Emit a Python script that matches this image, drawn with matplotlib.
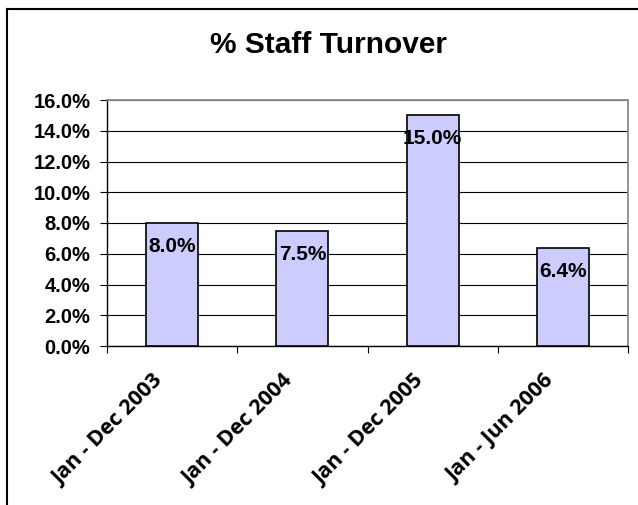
import matplotlib
matplotlib.use("Agg")
import matplotlib.pyplot as plt
import matplotlib.transforms as mtransforms
from matplotlib.lines import Line2D
from matplotlib.ticker import FuncFormatter, FixedLocator

# Staff turnover by period (percent)
categories = ["Jan - Dec 2003", "Jan - Dec 2004", "Jan - Dec 2005", "Jan - Jun 2006"]
turnover = [8.0, 7.5, 15.0, 6.4]
y_ticks = [0, 2, 4, 6, 8, 10, 12, 14, 16]
title = "% Staff Turnover"

plt.rcParams["font.family"] = ["Liberation Sans", "DejaVu Sans"]
plt.rcParams["font.weight"] = "bold"

DPI = 100
W, H = 638, 505
fig = plt.figure(figsize=(W / DPI, H / DPI), dpi=DPI)
fig.patch.set_facecolor("white")

# plot area in pixel terms
left, right, top, bottom = 107, 628, 100, 346
ax = fig.add_axes([left / W, (H - bottom) / H, (right - left) / W, (bottom - top) / H])

x = list(range(len(categories)))
ax.bar(x, turnover, width=0.4, color="#CCCCFF", edgecolor="black", linewidth=1.2, zorder=3)

ax.set_xlim(-0.5, len(categories) - 0.5)
ax.set_ylim(0, 16)
ax.yaxis.set_major_locator(FixedLocator(y_ticks))
ax.yaxis.set_major_formatter(FuncFormatter(lambda v, p: f"{v:.1f}%"))
ax.grid(axis="y", color="black", linewidth=0.8, zorder=0)
ax.set_axisbelow(True)

# spines: black axes, grey frame
for s in ("top", "right"):
    ax.spines[s].set_color("#8c8c8c")
    ax.spines[s].set_linewidth(1.3)
for s in ("left", "bottom"):
    ax.spines[s].set_color("black")
    ax.spines[s].set_linewidth(1.0)

ax.tick_params(axis="y", direction="out", length=5, width=0.8, pad=7,
               labelsize=14.5, colors="black")

# category separators as minor ticks, labels on the major positions
ax.xaxis.set_minor_locator(FixedLocator([i - 0.5 for i in range(len(categories) + 1)]))
ax.tick_params(axis="x", which="minor", direction="out", length=5, width=0.8)
ax.set_xticks(x)
ax.set_xticklabels(categories, rotation=45, ha="right", va="center",
                   rotation_mode="anchor", fontsize=15.5, fontweight="bold",
                   family=["Open Sans", "DejaVu Sans"])
ax.tick_params(axis="x", which="major", length=0, pad=23)
shift = mtransforms.ScaledTranslation(-12 / DPI, 0, fig.dpi_scale_trans)
for lbl in ax.get_xticklabels():
    lbl.set_transform(lbl.get_transform() + shift)

for lbl in ax.get_yticklabels():
    lbl.set_fontweight("bold")

# value labels inside the bars
for xi, v in zip(x, turnover):
    ax.annotate(f"{v:.1f}%", xy=(xi, v), xytext=(0, -17), textcoords="offset points",
                ha="center", va="center", fontsize=15, fontweight="bold", zorder=4)

fig.text(328 / W, 1 - 45 / H, title, ha="center", va="center",
         fontsize=21.5, fontweight="bold")

# chart frame (top and left edges)
fig.add_artist(Line2D([7 / W, 1.0], [1 - 9 / H, 1 - 9 / H], color="black", linewidth=1.5,
                      transform=fig.transFigure))
fig.add_artist(Line2D([7 / W, 7 / W], [0.0, 1 - 9 / H], color="black", linewidth=1.5,
                      transform=fig.transFigure))

fig.savefig("out.png", dpi=DPI)
